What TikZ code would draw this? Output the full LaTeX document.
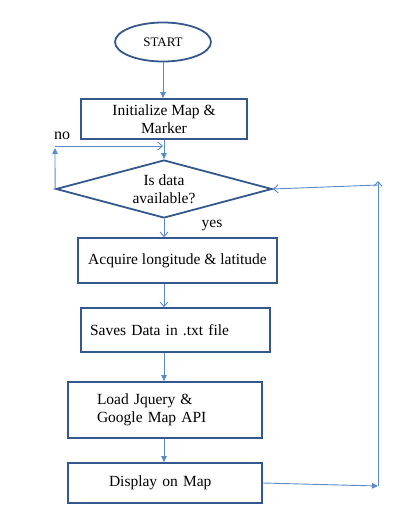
\documentclass[tikz,border=0pt]{standalone}
\usepackage{fontspec}
\setmainfont{Liberation Serif}
\usetikzlibrary{arrows.meta, shapes.geometric, calc}
\definecolor{boxblue}{RGB}{52,88,140}
\definecolor{lineblue}{RGB}{88,138,204}

\begin{document}
\begin{tikzpicture}[x=1pt,y=-1pt,
	box/.style={draw=boxblue, line width=1.8pt, inner ysep=0pt, font=\fontsize{15.5}{17.5}\selectfont},
	filled/.style={draw=lineblue, line width=0.9pt, -{Triangle[length=6pt,width=5.5pt]}},
	open/.style={draw=lineblue, line width=0.9pt, -{Straight Barb[length=4.5pt,width=8pt]}}]
	% Parameters for the page (edit these to taste)
	\def\xmid{164}      % x of the main flow line
	\def\xback{378}     % x of the return line on the right
	
	\useasboundingbox (0,0) rectangle (412,522);
	
	% Start and decision
	\node[ellipse, draw=boxblue, line width=1.8pt, minimum width=96pt, minimum height=39pt, font=\fontsize{13}{15}\selectfont] (start) at (163,42) {START};
	\node[box, align=center, minimum width=166pt, minimum height=40pt] (init) at (\xmid,119) {Initialize Map \&\\Marker};
	\node[diamond, draw=boxblue, line width=1.8pt, aspect=3.7, inner sep=0pt, minimum width=216pt, minimum height=58pt, align=center, font=\fontsize{15.5}{17.5}\selectfont] (dia) at (\xmid,189) {Is data\\available?};
	
	% Process boxes
	\node[box, align=center, minimum width=199pt, minimum height=45pt] (acq) at (177.5,260.5) {Acquire longitude \& latitude};
	\node[box, align=left, inner xsep=9pt, text width=171pt, minimum height=44pt] (save) at (175.5,330) {Saves Data in .txt file};
	\node[box, align=left, inner xsep=29pt, text width=136pt, minimum height=56pt] (load) at (165,410) {Load Jquery \&\\Google Map API};
	\node[box, align=left, inner xsep=41pt, text width=112pt, minimum height=40pt] (disp) at (165,483) {Display on Map};
	
	% Labels
	\node[font=\fontsize{16}{18}\selectfont] (no) at (62,136) {no};
	\node[font=\fontsize{15.5}{17.5}\selectfont] (yes) at (212,226) {yes};
	
	% Main flow
	\draw[filled] (start.south) -- (start.south |- init.north);
	\draw[filled] (init.south) -- (dia.north);
	\draw[open] (dia.south) -- (dia.south |- acq.north);
	\draw[open] (acq.south -| dia.south) -- (save.north -| dia.south);
	\draw[filled] (save.south -| dia.south) -- (load.north -| dia.south);
	\draw[filled] (load.south -| dia.south) -- (disp.north -| dia.south);
	
	% "no" loop back above the decision
	\coordinate (nt) at (55,148);
	\coordinate (nh) at (55,146);
	\draw[filled] (dia.west) -- (nt);
	\draw[open] (nh) -- (\xmid-1,146);
	
	% Return line on the right
	\coordinate (rb) at (\xback,486);
	\coordinate (rt) at (\xback,181);
	\coordinate (rh) at (\xback,185);
	\draw[filled] (disp.east) -- (rb);
	\draw[open] (rb) -- (rt);
	\draw[open] (rh) -- (dia.east);
\end{tikzpicture}
\end{document}
